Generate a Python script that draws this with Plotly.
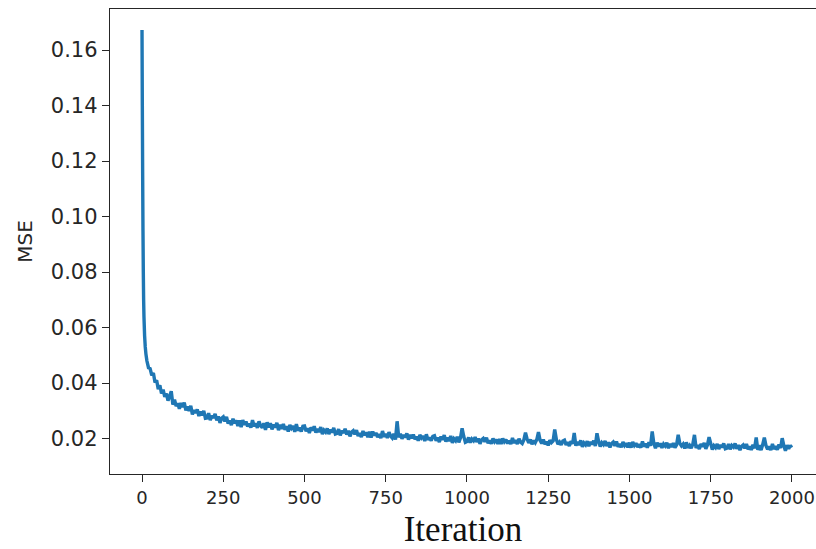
import plotly.graph_objects as go

iterations_early = [0, 1, 2, 3, 4, 5, 6, 8, 10, 12, 15, 20, 25, 30, 35, 40, 45, 50, 55, 60, 65, 70, 75, 80, 85, 90, 95]
iterations_late = list(range(100, 2000, 5)) + [1999]
iterations = iterations_early + iterations_late

mse_early = [0.1672, 0.140, 0.115, 0.095, 0.080, 0.070, 0.064, 0.057, 0.053, 0.0505, 0.0480, 0.0455,
             0.0452, 0.0428, 0.0436, 0.0402, 0.0410, 0.0378, 0.0392, 0.0362, 0.0376, 0.0350, 0.0362,
             0.0336, 0.0352, 0.0370, 0.0322]

mse_late = [
    # 100-195
    0.0340, 0.0317, 0.0327, 0.0307, 0.0328, 0.0313, 0.0329, 0.0301, 0.0315, 0.0299,
    0.0318, 0.0287, 0.0302, 0.0292, 0.0305, 0.0281, 0.0297, 0.0284, 0.0300, 0.0273,
    # 200-295
    0.0274, 0.0291, 0.0266, 0.0282, 0.0274, 0.0289, 0.0265, 0.0280, 0.0256, 0.0273,
    0.0278, 0.0261, 0.0278, 0.0254, 0.0265, 0.0248, 0.0271, 0.0255, 0.0265, 0.0245,
    # 300-395
    0.0265, 0.0241, 0.0266, 0.0250, 0.0261, 0.0243, 0.0254, 0.0239, 0.0266, 0.0244,
    0.0255, 0.0238, 0.0262, 0.0246, 0.0239, 0.0255, 0.0231, 0.0258, 0.0240, 0.0255,
    # 400-495
    0.0233, 0.0250, 0.0240, 0.0256, 0.0230, 0.0250, 0.0235, 0.0252, 0.0231, 0.0244,
    0.0225, 0.0249, 0.0237, 0.0245, 0.0224, 0.0252, 0.0228, 0.0239, 0.0225, 0.0244,
    # 500-595
    0.0245, 0.0226, 0.0237, 0.0220, 0.0240, 0.0229, 0.0244, 0.0221, 0.0235, 0.0223,
    0.0241, 0.0216, 0.0230, 0.0223, 0.0236, 0.0216, 0.0232, 0.0222, 0.0238, 0.0216,
    # 600-695
    0.0218, 0.0234, 0.0211, 0.0228, 0.0220, 0.0235, 0.0214, 0.0228, 0.0208, 0.0223,
    0.0228, 0.0215, 0.0230, 0.0209, 0.0219, 0.0205, 0.0227, 0.0212, 0.0222, 0.0205,
    # 700-795
    0.0224, 0.0203, 0.0225, 0.0211, 0.0220, 0.0205, 0.0216, 0.0201, 0.0227, 0.0206,
    0.0217, 0.0202, 0.0223, 0.0209, 0.0202, 0.0217, 0.0196, 0.0262, 0.0204, 0.0217,
    # 800-895
    0.0199, 0.0213, 0.0204, 0.0218, 0.0196, 0.0213, 0.0201, 0.0214, 0.0197, 0.0207,
    0.0192, 0.0213, 0.0202, 0.0209, 0.0191, 0.0215, 0.0195, 0.0204, 0.0192, 0.0208,
    # 900-995
    0.0210, 0.0192, 0.0203, 0.0187, 0.0207, 0.0196, 0.0212, 0.0189, 0.0203, 0.0191,
    0.0209, 0.0184, 0.0199, 0.0192, 0.0206, 0.0186, 0.0202, 0.0237, 0.0208, 0.0186,
    # 1000-1095
    0.0189, 0.0204, 0.0185, 0.0198, 0.0192, 0.0205, 0.0187, 0.0200, 0.0181, 0.0195,
    0.0200, 0.0188, 0.0203, 0.0183, 0.0193, 0.0181, 0.0200, 0.0188, 0.0196, 0.0181,
    # 1100-1195
    0.0198, 0.0180, 0.0200, 0.0188, 0.0196, 0.0182, 0.0192, 0.0180, 0.0202, 0.0184,
    0.0194, 0.0180, 0.0199, 0.0187, 0.0182, 0.0195, 0.0221, 0.0198, 0.0184, 0.0196,
    # 1200-1295
    0.0179, 0.0193, 0.0185, 0.0197, 0.0223, 0.0193, 0.0182, 0.0196, 0.0179, 0.0189,
    0.0175, 0.0194, 0.0185, 0.0191, 0.0232, 0.0197, 0.0179, 0.0187, 0.0177, 0.0191,
    # 1300-1395
    0.0194, 0.0177, 0.0187, 0.0173, 0.0190, 0.0181, 0.0220, 0.0174, 0.0188, 0.0177,
    0.0193, 0.0170, 0.0184, 0.0177, 0.0190, 0.0172, 0.0188, 0.0179, 0.0192, 0.0173,
    # 1400-1495
    0.0219, 0.0190, 0.0171, 0.0185, 0.0178, 0.0191, 0.0173, 0.0186, 0.0168, 0.0182,
    0.0187, 0.0174, 0.0189, 0.0170, 0.0180, 0.0168, 0.0187, 0.0175, 0.0183, 0.0168,
    # 1500-1595
    0.0185, 0.0167, 0.0187, 0.0175, 0.0183, 0.0169, 0.0179, 0.0167, 0.0189, 0.0171,
    0.0181, 0.0167, 0.0186, 0.0174, 0.0225, 0.0182, 0.0165, 0.0185, 0.0171, 0.0183,
    # 1600-1695
    0.0166, 0.0180, 0.0173, 0.0185, 0.0165, 0.0181, 0.0169, 0.0183, 0.0167, 0.0177,
    0.0213, 0.0182, 0.0173, 0.0180, 0.0164, 0.0186, 0.0167, 0.0175, 0.0165, 0.0180,
    # 1700-1795
    0.0213, 0.0166, 0.0176, 0.0162, 0.0180, 0.0171, 0.0184, 0.0163, 0.0177, 0.0205,
    0.0182, 0.0160, 0.0174, 0.0167, 0.0180, 0.0162, 0.0177, 0.0168, 0.0182, 0.0163,
    # 1800-1895
    0.0165, 0.0180, 0.0161, 0.0175, 0.0169, 0.0182, 0.0163, 0.0176, 0.0158, 0.0172,
    0.0177, 0.0165, 0.0180, 0.0161, 0.0171, 0.0159, 0.0177, 0.0165, 0.0204, 0.0159,
    # 1900-1995
    0.0176, 0.0158, 0.0178, 0.0203, 0.0175, 0.0161, 0.0171, 0.0158, 0.0180, 0.0162,
    0.0172, 0.0159, 0.0178, 0.0166, 0.0201, 0.0174, 0.0156, 0.0176, 0.0163, 0.0175,
    # 1999
    0.0167,
]
mse = mse_early + mse_late

x_ticks = [0, 250, 500, 750, 1000, 1250, 1500, 1750, 2000]
y_ticks = [0.02, 0.04, 0.06, 0.08, 0.10, 0.12, 0.14, 0.16]
y_tick_labels = ["0.02", "0.04", "0.06", "0.08", "0.10", "0.12", "0.14", "0.16"]

fig = go.Figure()
fig.add_trace(go.Scatter(
    x=iterations, y=mse, mode="lines",
    line=dict(color="#1f77b4", width=3.4, simplify=False),
    showlegend=False,
))

axis_color = "#262626"
fig.update_layout(
    width=816, height=549,
    margin=dict(l=110, r=0, t=9, b=75),
    paper_bgcolor="white", plot_bgcolor="white",
    font=dict(family="DejaVu Sans", color=axis_color),
    xaxis=dict(
        range=[-98.5, 2074], automargin=False,
        tickmode="array", tickvals=x_ticks, ticktext=[str(v) for v in x_ticks],
        ticks="outside", ticklen=7, tickwidth=1.3, tickcolor=axis_color,
        showline=True, linecolor=axis_color, linewidth=1.4, mirror=True,
        showgrid=False, zeroline=False,
        tickfont=dict(family="DejaVu Sans", size=18, color=axis_color),
        title=dict(text="Iteration", font=dict(family="Liberation Serif", size=35, color="#111111"), standoff=10),
    ),
    yaxis=dict(
        range=[0.0072, 0.1748], automargin=False,
        tickmode="array", tickvals=y_ticks, ticktext=y_tick_labels,
        ticks="outside", ticklen=7, tickwidth=1.3, tickcolor=axis_color,
        showline=True, linecolor=axis_color, linewidth=1.4, mirror=False,
        showgrid=False, zeroline=False,
        tickfont=dict(family="DejaVu Sans", size=21, color=axis_color),
        title=dict(text="MSE", font=dict(family="DejaVu Sans", size=20, color=axis_color), standoff=12),
    ),
)

fig.write_html(
    "out.html",
    config={"displayModeBar": False},
    post_script="document.body.style.margin='0';document.body.style.overflow='hidden';",
)
